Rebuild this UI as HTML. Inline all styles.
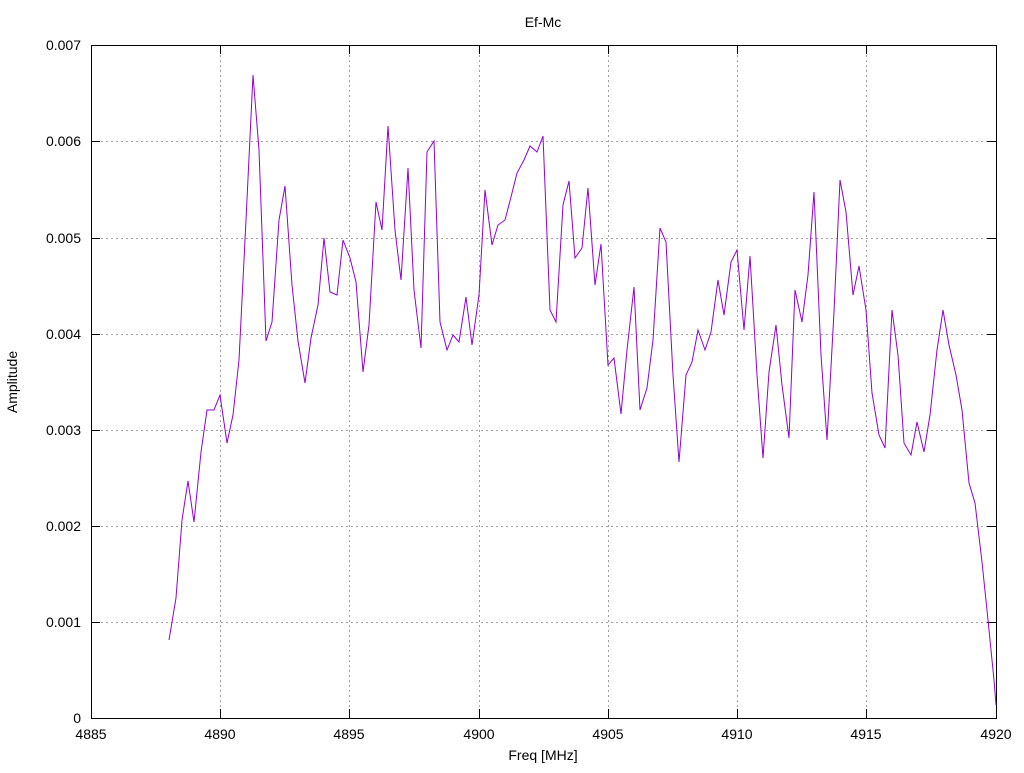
<!DOCTYPE html>
<html><head><meta charset="utf-8"><style>
body{margin:0;background:#fff}
svg text{font-family:"Liberation Sans",sans-serif;font-size:14px;fill:#000}
</style></head><body>
<svg width="1024" height="768" xmlns="http://www.w3.org/2000/svg">
<rect width="1024" height="768" fill="#fff"/>
<g stroke="#a0a0a0" stroke-dasharray="2,3" stroke-width="1">
<line x1="220.5" y1="45" x2="220.5" y2="718"/>
<line x1="349.5" y1="45" x2="349.5" y2="718"/>
<line x1="479.5" y1="45" x2="479.5" y2="718"/>
<line x1="608.5" y1="45" x2="608.5" y2="718"/>
<line x1="737.5" y1="45" x2="737.5" y2="718"/>
<line x1="866.5" y1="45" x2="866.5" y2="718"/>
<line x1="91" y1="622.5" x2="996" y2="622.5"/>
<line x1="91" y1="526.5" x2="996" y2="526.5"/>
<line x1="91" y1="430.5" x2="996" y2="430.5"/>
<line x1="91" y1="334.5" x2="996" y2="334.5"/>
<line x1="91" y1="238.5" x2="996" y2="238.5"/>
<line x1="91" y1="141.5" x2="996" y2="141.5"/>
</g>
<g stroke="#000" stroke-width="1">
<rect x="91.5" y="45.5" width="905" height="673" fill="none"/>
<path d="M91 622.5h9M91 526.5h9M91 430.5h9M91 334.5h9M91 238.5h9M91 141.5h9M996 622.5h-9M996 526.5h-9M996 430.5h-9M996 334.5h-9M996 238.5h-9M996 141.5h-9
M220.5 718v-9M349.5 718v-9M479.5 718v-9M608.5 718v-9M737.5 718v-9M866.5 718v-9M220.5 45v9M349.5 45v9M479.5 45v9M608.5 45v9M737.5 45v9M866.5 45v9"/>
</g>
<polyline fill="none" stroke="#9400d3" stroke-width="1" points="169,640 176,598 182,520 188,481 194,522 201,452 207,410 214,410 220,395 227,443 233,415 239,360 246,220 253,75 259,150 266,341 272,322 279,220 285,186 292,285 298,341 305,383 311,338 318,305 324,238 330,292 337,295 343,240 350,258 356,282 363,372 369,325 376,202 382,230 388,126 395,230 401,280 408,168 414,290 421,348 427,152 434,141 440,322 447,350 453,335 459,342 466,297 472,345 479,295 485,190 492,245 498,225 505,220 511,197 517,173 524,160 530,146 537,152 543,136 550,310 556,322 563,205 569,181 575,258 582,248 588,188 595,285 601,244 608,365 614,358 621,414 627,350 634,287 640,410 647,388 653,340 660,228 666,242 673,375 679,462 686,375 692,362 698,330 705,350 711,332 718,280 724,315 731,262 737,250 744,330 750,256 757,375 763,458 769,372 776,325 782,385 789,438 795,290 802,322 808,275 814,192 821,355 827,440 834,312 840,180 846,212 853,295 859,266 866,310 872,393 879,435 885,448 892,310 898,355 904,443 911,455 917,422 924,452 930,415 937,350 943,310 949,345 956,375 962,410 969,483 975,503 982,562 988,620 994,680 996,705"/>
<g text-anchor="end">
<text x="81" y="723">0</text>
<text x="81" y="627">0.001</text>
<text x="81" y="531">0.002</text>
<text x="81" y="435">0.003</text>
<text x="81" y="339">0.004</text>
<text x="81" y="243">0.005</text>
<text x="81" y="146">0.006</text>
<text x="81" y="50">0.007</text>
</g>
<g text-anchor="middle">
<text x="91" y="739">4885</text>
<text x="220" y="739">4890</text>
<text x="349" y="739">4895</text>
<text x="479" y="739">4900</text>
<text x="608" y="739">4905</text>
<text x="737" y="739">4910</text>
<text x="866" y="739">4915</text>
<text x="996" y="739">4920</text>
<text x="543" y="760">Freq [MHz]</text>
<text x="543" y="27">Ef-Mc</text>
<text transform="translate(17,382) rotate(-90)">Amplitude</text>
</g>
</svg>
</body></html>
